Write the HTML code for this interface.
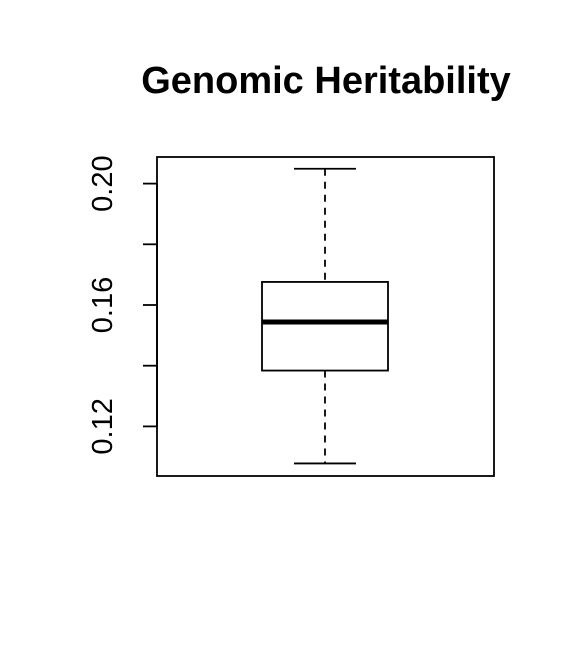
<!DOCTYPE html>
<html>
<head>
<meta charset="utf-8">
<style>
  html, body { margin:0; padding:0; background:#fff; }
  svg { display:block; }
  text { font-family: "Liberation Sans", Arial, sans-serif; fill:#000; }
</style>
</head>
<body>
<svg id="chart" width="576" height="672" viewBox="0 0 576 672">
  <text x="326" y="93" text-anchor="middle" font-size="38" font-weight="bold">Genomic Heritability</text>
  <rect x="157" y="157" width="337" height="319" fill="none" stroke="#000" stroke-width="1.8"/>
  <g id="yaxis"></g>
  <g id="box"></g>
</svg>
<script>
const tickValues = [0.12, 0.14, 0.16, 0.18, 0.20];
const tickLabels = ["0.12", "", "0.16", "", "0.20"];
const whiskerLow = [0.1078];
const q1 = [0.1384];
const median = [0.1544];
const q3 = [0.1676];
const whiskerHigh = [0.2049];

const NS = "http://www.w3.org/2000/svg";
function y(v) { return 305 - (v - 0.16) / 0.02 * 60.7; }
const cx = 325, boxHalf = 63, capHalf = 31;

function mk(tag, attrs, parent) {
  const e = document.createElementNS(NS, tag);
  for (const k in attrs) e.setAttribute(k, attrs[k]);
  parent.appendChild(e);
  return e;
}

const ya = document.getElementById("yaxis");
mk("line", {x1:157, x2:157, y1:y(tickValues[0]), y2:y(tickValues[tickValues.length-1]), stroke:"#000", "stroke-width":1.8}, ya);
tickValues.forEach((v, i) => {
  const t = mk("line", {x1:143, x2:157, y1:y(v), y2:y(v), stroke:"#000", "stroke-width":1.8}, ya);
  
  
  if (tickLabels[i]) {
    const tx = mk("text", {x:0, y:0, "font-size":29, "text-anchor":"middle",
      transform:"translate(112," + y(v) + ") rotate(-90)"}, ya);
    tx.textContent = tickLabels[i];
    
    
  }
});

const bx = document.getElementById("box");
const w1 = mk("line", {x1:cx, x2:cx, y1:y(whiskerHigh[0]), y2:y(q3[0]), stroke:"#000", "stroke-width":1.8, "stroke-dasharray":"7,6"}, bx);


const w2 = mk("line", {x1:cx, x2:cx, y1:y(q1[0]), y2:y(whiskerLow[0]), stroke:"#000", "stroke-width":1.8, "stroke-dasharray":"7,6"}, bx);


const c1 = mk("line", {x1:cx-capHalf, x2:cx+capHalf, y1:y(whiskerHigh[0]), y2:y(whiskerHigh[0]), stroke:"#000", "stroke-width":1.8}, bx);


const c2 = mk("line", {x1:cx-capHalf, x2:cx+capHalf, y1:y(whiskerLow[0]), y2:y(whiskerLow[0]), stroke:"#000", "stroke-width":1.8}, bx);


const r = mk("rect", {x:cx-boxHalf, y:y(q3[0]), width:boxHalf*2, height:y(q1[0])-y(q3[0]), fill:"none", stroke:"#000", "stroke-width":1.8}, bx);


const m = mk("line", {x1:cx-boxHalf, x2:cx+boxHalf, y1:y(median[0]), y2:y(median[0]), stroke:"#000", "stroke-width":5}, bx);


</script>
</body>
</html>
